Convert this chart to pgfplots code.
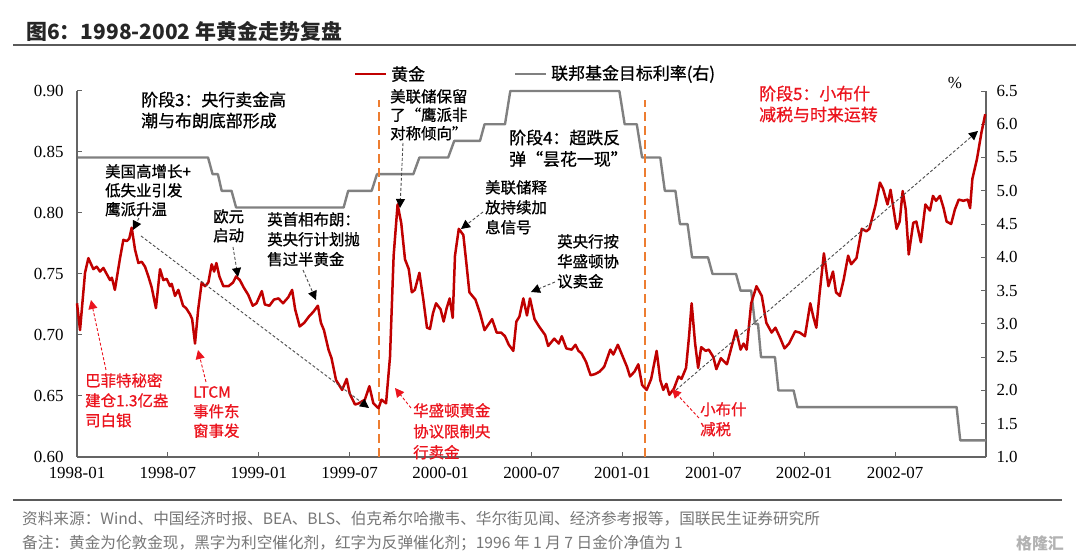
\documentclass[border=0pt]{standalone}
\usepackage{fontspec}
\setmainfont{Liberation Serif}
\newfontfamily\cjk{Noto Sans CJK SC}
\newfontfamily\cjkm{Noto Sans CJK SC}[FakeBold=0.8]
\usepackage{pgfplots}
\usepackage{pgfplotstable}
\pgfplotsset{compat=1.18}
\usetikzlibrary{arrows.meta}
\definecolor{goldred}{RGB}{192,0,0}
\definecolor{fedgray}{RGB}{128,128,128}
\definecolor{vorange}{RGB}{237,125,49}
\definecolor{annred}{RGB}{235,20,30}
\definecolor{axgray}{RGB}{100,100,100}
\definecolor{footgray}{RGB}{118,118,118}
\definecolor{rulegray}{RGB}{90,90,90}

\pgfplotstableread{
m v
0.00 0.726
0.20 0.704
0.53 0.751
0.75 0.763
1.08 0.754
1.30 0.756
1.52 0.752
1.74 0.755
1.96 0.750
2.18 0.745
2.30 0.747
2.50 0.737
2.84 0.763
3.06 0.778
3.28 0.777
3.45 0.779
3.61 0.788
3.83 0.770
4.05 0.759
4.27 0.760
4.49 0.756
4.71 0.748
4.93 0.739
5.21 0.722
5.48 0.754
5.70 0.745
5.92 0.746
6.14 0.740
6.25 0.742
6.47 0.732
6.69 0.737
7.00 0.724
7.20 0.722
7.46 0.717
7.60 0.713
7.79 0.693
8.00 0.721
8.23 0.743
8.45 0.740
8.67 0.743
8.89 0.758
9.05 0.752
9.20 0.759
9.40 0.748
9.66 0.740
10.00 0.740
10.30 0.743
10.50 0.748
10.75 0.745
11.00 0.739
11.30 0.733
11.60 0.724
11.85 0.726
12.20 0.736
12.40 0.725
12.70 0.724
13.00 0.729
13.30 0.730
13.60 0.726
13.95 0.731
14.20 0.737
14.40 0.721
14.70 0.707
15.00 0.710
15.30 0.715
15.60 0.719
15.90 0.724
16.10 0.710
16.30 0.704
16.60 0.688
16.80 0.681
17.10 0.663
17.50 0.655
17.80 0.664
18.00 0.652
18.35 0.643
18.60 0.644
19.00 0.647
19.30 0.658
19.56 0.644
19.90 0.640
20.10 0.647
20.40 0.644
20.66 0.682
20.90 0.765
21.16 0.807
21.40 0.792
21.65 0.762
21.90 0.754
22.10 0.735
22.30 0.737
22.60 0.751
22.86 0.729
23.10 0.706
23.30 0.705
23.50 0.718
23.70 0.726
24.00 0.721
24.20 0.711
24.40 0.722
24.60 0.730
24.80 0.714
24.95 0.765
25.20 0.787
25.50 0.782
25.70 0.759
25.90 0.735
26.30 0.729
26.60 0.718
26.90 0.704
27.40 0.713
27.70 0.702
28.00 0.702
28.25 0.699
28.50 0.692
28.80 0.687
29.00 0.711
29.20 0.715
29.46 0.730
29.70 0.716
29.90 0.730
30.20 0.713
30.50 0.707
30.90 0.700
31.10 0.691
31.50 0.697
31.80 0.693
32.00 0.699
32.30 0.689
32.65 0.688
32.90 0.692
33.10 0.687
33.30 0.685
33.60 0.678
33.90 0.667
34.20 0.668
34.50 0.670
34.80 0.674
35.20 0.688
35.40 0.684
35.70 0.692
36.00 0.683
36.30 0.674
36.50 0.666
36.80 0.670
37.05 0.676
37.30 0.659
37.60 0.655
37.90 0.664
38.26 0.687
38.50 0.663
38.70 0.655
38.90 0.660
39.10 0.651
39.40 0.656
39.70 0.666
39.90 0.664
40.20 0.673
40.40 0.699
40.57 0.726
40.80 0.693
41.00 0.673
41.20 0.690
41.50 0.687
41.70 0.688
42.00 0.682
42.20 0.672
42.50 0.681
42.90 0.676
43.20 0.690
43.50 0.704
43.80 0.688
44.00 0.693
44.20 0.688
44.50 0.726
44.85 0.740
45.20 0.732
45.50 0.710
45.85 0.702
46.10 0.706
46.40 0.698
46.70 0.689
47.00 0.693
47.40 0.703
47.70 0.702
48.05 0.699
48.40 0.726
48.60 0.715
48.80 0.706
49.00 0.732
49.30 0.767
49.60 0.740
49.90 0.752
50.10 0.735
50.35 0.732
50.60 0.745
50.90 0.765
51.10 0.758
51.45 0.763
51.80 0.787
52.10 0.785
52.30 0.787
52.70 0.806
53.00 0.825
53.20 0.820
53.50 0.807
53.70 0.819
53.90 0.803
54.10 0.787
54.30 0.793
54.50 0.818
54.70 0.803
54.90 0.766
55.20 0.792
55.40 0.793
55.70 0.776
56.00 0.807
56.30 0.802
56.50 0.814
56.70 0.810
56.96 0.814
57.20 0.804
57.40 0.793
57.70 0.791
57.95 0.803
58.20 0.811
58.50 0.810
58.80 0.811
58.95 0.804
59.10 0.828
59.40 0.844
59.70 0.866
59.95 0.881
}\goldtab

\pgfplotstableread{
m r
0.00 5.50
8.65 5.50
8.95 5.25
9.30 5.25
9.55 5.00
10.20 5.00
10.50 4.75
17.60 4.75
17.90 5.00
19.45 5.00
19.80 5.25
22.20 5.25
22.60 5.50
24.50 5.50
24.90 5.75
26.60 5.75
26.90 6.00
28.25 6.00
28.60 6.50
35.80 6.50
36.15 6.00
36.95 6.00
37.30 5.50
38.50 5.50
38.80 5.00
39.50 5.00
39.80 4.50
40.30 4.50
40.60 4.00
41.65 4.00
41.95 3.75
43.50 3.75
43.80 3.50
44.50 3.50
44.75 3.00
44.95 3.00
45.15 2.50
46.07 2.50
46.30 2.00
47.30 2.00
47.55 1.75
58.06 1.75
58.30 1.25
60.00 1.25
}\fedtab

\begin{document}
\begin{tikzpicture}
\path[use as bounding box] (0,0) rectangle (1080bp,552bp);

% Fed funds axis (right)
\begin{axis}[
  at={(77bp,95bp)}, anchor=south west,
  width=909bp, height=366bp, scale only axis,
  xmin=0, xmax=60, ymin=1, ymax=6.5,
  axis x line=none, axis y line*=right,
  ytick={1,1.5,2,2.5,3,3.5,4,4.5,5,5.5,6,6.5},
  yticklabel style={/pgf/number format/fixed, /pgf/number format/fixed zerofill, /pgf/number format/precision=1, /pgf/number format/assume math mode=true, font=\fontsize{17}{17}\selectfont, xshift=7bp},
  axis line style={draw=axgray, line width=1.2bp},
  tick style={draw=axgray, line width=1bp},
  major tick length=5bp, tick align=inside,
  clip=false,
]
\addplot[fedgray, line width=2.4bp, line join=round, mark=none] table[x=m,y=r] {\fedtab};
\end{axis}

% Gold axis (left)
\begin{axis}[
  at={(77bp,95bp)}, anchor=south west,
  width=909bp, height=366bp, scale only axis,
  xmin=0, xmax=60, ymin=0.6, ymax=0.9,
  axis x line*=bottom, axis y line*=left,
  xtick={0,6,12,18,24,30,36,42,48,54},
  xticklabels={1998-01,1998-07,1999-01,1999-07,2000-01,2000-07,2001-01,2001-07,2002-01,2002-07},
  ytick={0.60,0.65,0.70,0.75,0.80,0.85,0.90},
  yticklabel style={/pgf/number format/fixed, /pgf/number format/fixed zerofill, /pgf/number format/precision=2, /pgf/number format/assume math mode=true, font=\fontsize{17}{17}\selectfont, xshift=-10bp},
  xticklabel style={font=\fontsize{17}{17}\selectfont, yshift=-7bp},
  axis line style={draw=axgray, line width=1.2bp},
  tick style={draw=axgray, line width=1bp},
  major tick length=5bp, tick align=inside,
  clip=false,
]
\draw[vorange, line width=2.4bp, dash pattern=on 9bp off 5bp] (axis cs:19.93,0.60) -- (axis cs:19.93,0.893);
\draw[vorange, line width=2.4bp, dash pattern=on 9bp off 5bp] (axis cs:37.49,0.60) -- (axis cs:37.49,0.893);
\addplot[goldred, line width=2.5bp, line join=round, mark=none] table[x=m,y=v] {\goldtab};
\end{axis}

\begin{scope}[x=1bp,y=-1bp,yshift=552bp]
% title and rules
\node[anchor=west, inner sep=0, text=black!85, font=\cjk\bfseries\fontsize{21}{21}\selectfont] at (26,31) {图6：1998-2002 年黄金走势复盘};
\draw[rulegray, line width=2bp] (13,45) -- (1076,45);
\draw[rulegray, line width=2bp] (13,500) -- (1062,500);
% footer
\node[anchor=west, inner sep=0, text=footgray, font=\cjk\fontsize{15.7}{15.7}\selectfont] at (22,519) {资料来源：Wind、中国经济时报、BEA、BLS、伯克希尔哈撒韦、华尔街见闻、经济参考报等，国联民生证券研究所};
\node[anchor=west, inner sep=0, text=footgray, font=\cjk\fontsize{15.7}{15.7}\selectfont] at (22,543) {备注：黄金为伦敦金现，黑字为利空催化剂，红字为反弹催化剂；1996 年 1 月 7 日金价净值为 1};
\node[anchor=center, inner sep=0, text=black!30, font=\cjk\bfseries\fontsize{16}{16}\selectfont] at (1040,543) {格隆汇};
% legend
\draw[goldred, line width=2.5bp] (355,74) -- (386,74);
\node[anchor=west, inner sep=0, font=\cjkm\fontsize{17}{17}\selectfont] at (391,74) {黄金};
\draw[fedgray, line width=2.4bp] (515,74) -- (546,74);
\node[anchor=west, inner sep=0, font=\cjkm\fontsize{17}{17}\selectfont] at (551,74) {联邦基金目标利率(右)};
\node[anchor=center, inner sep=0, font=\fontsize{17}{17}\selectfont] at (955,83) {\%};

% phase labels
\node[anchor=north west, inner sep=0, align=left, font=\cjkm\fontsize{17}{21}\selectfont] at (141,91.5) {阶段3：央行卖金高\\潮与布朗底部形成};
\node[anchor=north west, inner sep=0, align=left, font=\cjkm\fontsize{17}{21.5}\selectfont] at (509,129.5) {阶段4：超跌反\\弹“昙花一现”};
\node[anchor=north west, inner sep=0, align=left, text=annred, font=\cjkm\fontsize{17}{21}\selectfont] at (759,85.5) {阶段5：小布什\\减税与时来运转};

% black event labels
\node[anchor=north west, inner sep=0, align=left, font=\cjkm\fontsize{15.5}{19}\selectfont] at (105,164) {美国高增长+\\低失业引发\\鹰派升温};
\node[anchor=north west, inner sep=0, align=left, font=\cjkm\fontsize{15.5}{19}\selectfont] at (213,209) {欧元\\启动};
\node[anchor=north west, inner sep=0, align=left, font=\cjkm\fontsize{15.5}{20}\selectfont] at (267,212) {英首相布朗：\\英央行计划抛\\售过半黄金};
\node[anchor=north west, inner sep=0, align=left, font=\cjkm\fontsize{15.5}{18.5}\selectfont] at (390,89) {美联储保留\\了“鹰派非\\对称倾向”};
\node[anchor=north west, inner sep=0, align=left, font=\cjkm\fontsize{15.5}{20}\selectfont] at (485,180) {美联储释\\放持续加\\息信号};
\node[anchor=north west, inner sep=0, align=left, font=\cjkm\fontsize{15.5}{20}\selectfont] at (557,234) {英央行按\\华盛顿协\\议卖金};

% red event labels
\node[anchor=north west, inner sep=0, align=left, text=annred, font=\cjkm\fontsize{15.5}{20}\selectfont] at (85,373) {巴菲特秘密\\建仓1.3亿盎\\司白银};
\node[anchor=north west, inner sep=0, align=left, text=annred, font=\cjkm\fontsize{15.5}{19.5}\selectfont] at (193,386) {LTCM\\事件东\\窗事发};
\node[anchor=north west, inner sep=0, align=left, text=annred, font=\cjkm\fontsize{15.5}{21}\selectfont] at (413,403) {华盛顿黄金\\协议限制央\\行卖金};
\node[anchor=north west, inner sep=0, align=left, text=annred, font=\cjkm\fontsize{15.5}{20}\selectfont] at (700,402) {小布什\\减税};

% dashed arrows
\tikzset{blkarr/.style={draw=black!70, line width=0.9bp, dash pattern=on 3bp off 2bp, -{Triangle[length=9bp,width=9bp,color=black]}}}
\tikzset{redarr/.style={draw=annred, line width=0.9bp, dash pattern=on 3bp off 2bp, -{Triangle[length=9bp,width=9bp,color=annred]}}}
\draw[blkarr] (139,218) -- (133,230);
\draw[blkarr] (233,247) -- (238,277);
\draw[blkarr] (303,270) -- (316,300);
\draw[blkarr] (403,143) -- (400,208);
\draw[blkarr] (483,212) -- (461,229);
\draw[blkarr] (555,282) -- (531,292);
\draw[blkarr] (141,236) -- (369,408);
\draw[blkarr] (676,390) -- (978,131);
\draw[redarr] (106,370) -- (91,300);
\draw[redarr] (206,382) -- (198,350);
\draw[redarr] (411,408) -- (395,388);
\draw[redarr] (699,418) -- (672,389);
\end{scope}
\end{tikzpicture}
\end{document}
